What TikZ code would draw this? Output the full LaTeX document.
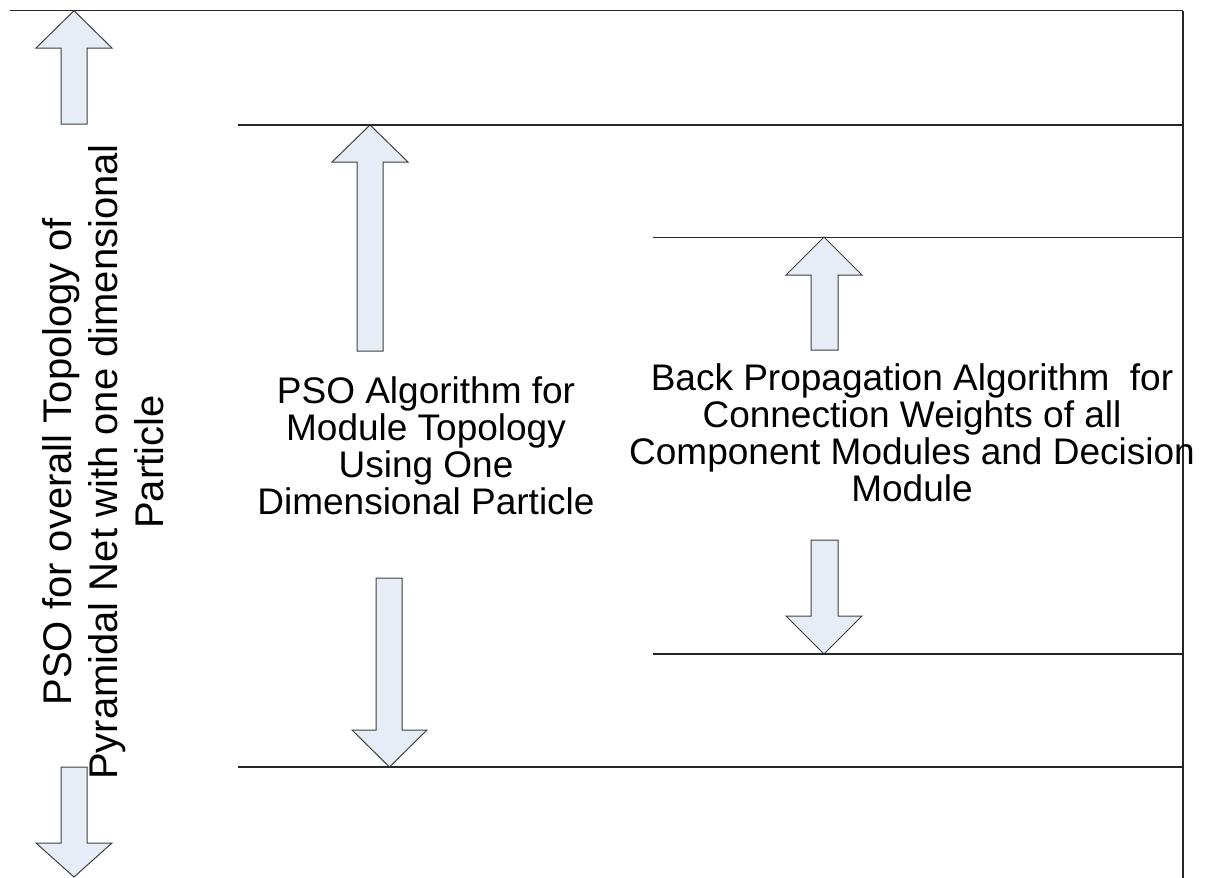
\documentclass[tikz,border=0pt]{standalone}
\usepackage{fontspec}
\setmainfont{Liberation Sans}
\definecolor{arrfill}{RGB}{230,237,247}
\begin{document}
\begin{tikzpicture}[x=1pt,y=-1pt,
  rule/.style={draw=black!85,line width=1.2pt},
  bigarrow/.style={fill=arrfill,draw=black!75,line width=1pt,line join=miter},
  lbl/.style={inner sep=0pt,align=center,font=\fontsize{37}{37}\selectfont},
  vlbl/.style={inner sep=0pt,align=center,rotate=90,font=\fontsize{40}{46}\selectfont}]
\useasboundingbox (0,0) rectangle (1216,878);
% arrows
\path[bigarrow] (74,10.7) -- (112,48) -- (87,48) -- (87,124) -- (61,124) -- (61,48) -- (36,48) -- cycle;
\path[bigarrow] (61,767) -- (87,767) -- (87,843) -- (112,843) -- (74,877) -- (36,843) -- (61,843) -- cycle;
\path[bigarrow] (370,125) -- (408,162) -- (383,162) -- (383,351) -- (357,351) -- (357,162) -- (332,162) -- cycle;
\path[bigarrow] (376,578) -- (402,578) -- (402,730) -- (427,730) -- (389.5,767) -- (352,730) -- (376,730) -- cycle;
\path[bigarrow] (824,237) -- (862,275) -- (838,275) -- (838,350) -- (811,350) -- (811,275) -- (786,275) -- cycle;
\path[bigarrow] (811,540) -- (838,540) -- (838,616) -- (862,616) -- (824,654) -- (786,616) -- (811,616) -- cycle;
% rules
\coordinate (tl) at (10,10.7);
\coordinate (tr) at (1183,10.7);
\coordinate (br) at (1183,878);
\draw[rule] (tl) -- (tr);
\draw[rule] (tr) -- (br);
\draw[rule] (238,125) -- (1183,125);
\draw[rule] (653,237.5) -- (1183,237.5);
\draw[rule] (653,654) -- (1183,654);
\draw[rule] (238,767) -- (1183,767);
% texts
\node[vlbl,anchor=north] (outer) at (42,462) {PSO for overall Topology of\\Pyramidal Net with one dimensional\\Particle};
\node[lbl,anchor=north] (pso) at (426,376) {PSO Algorithm for\\Module Topology\\Using One\\Dimensional Particle};
\node[lbl,anchor=north] (bp) at (912,363) {Back Propagation Algorithm\ \ for\\Connection Weights of all\\Component Modules and Decision\\Module};
\end{tikzpicture}
\end{document}
